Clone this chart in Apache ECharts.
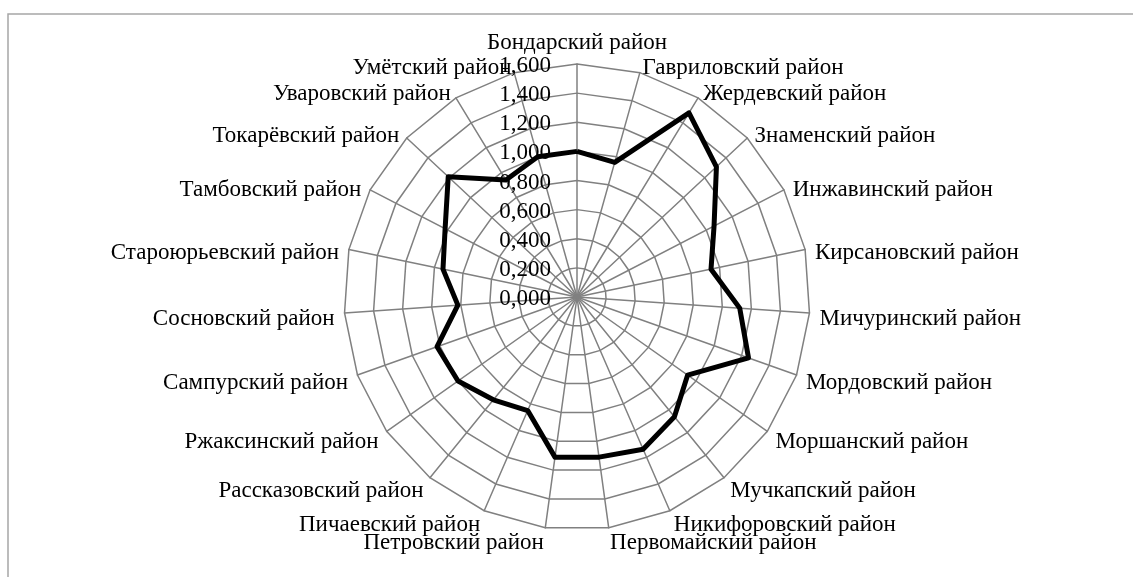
<!DOCTYPE html>
<html>
<head>
<meta charset="utf-8">
<script src="https://cdn.jsdelivr.net/npm/echarts@6/dist/echarts.min.js"></script>
<style>
  html, body { margin: 0; padding: 0; background: #fff; }
  #radar { width: 1133px; height: 577px; }
</style>
</head>
<body>
<div id="radar"></div>
<script>
// районы по часовой стрелке, начиная сверху
var districts = ['Бондарский район', 'Гавриловский район', 'Жердевский район', 'Знаменский район',
    'Инжавинский район', 'Кирсановский район', 'Мичуринский район', 'Мордовский район',
    'Моршанский район', 'Мучкапский район', 'Никифоровский район', 'Первомайский район',
    'Петровский район', 'Пичаевский район', 'Рассказовский район', 'Ржаксинский район',
    'Сампурский район', 'Сосновский район', 'Староюрьевский район', 'Тамбовский район',
    'Токарёвский район', 'Уваровский район', 'Умётский район'];
var values = [1.00, 0.96, 1.48, 1.31, 1.06, 0.94, 1.12, 1.25, 0.93, 1.06, 1.14, 1.11,
    1.11, 0.85, 0.91, 1.00, 1.02, 0.82, 0.94, 1.02, 1.21, 0.94, 1.00];
var tickMin = 0, tickMax = 1.6, tickStep = 0.2;

// echarts кладёт оси против часовой, поэтому разворачиваем хвост
function clockwise(arr) {
    return [arr[0]].concat(arr.slice(1).reverse());
}

var fontFamily = '"Liberation Serif", "Times New Roman", serif';
var gridColor = '#808080';
var cx = 577, cy = 297, r = 233;

var myChart = echarts.init(document.getElementById('radar'));
var option = {
    animation: false,
    graphic: [{
        type: 'rect',
        shape: { x: 8, y: 14, width: 1200, height: 700 },
        style: { fill: 'none', stroke: '#a6a6a6', lineWidth: 1.5 },
        silent: true
    }],
    radar: {
        center: [cx, cy],
        radius: r,
        startAngle: 90,
        shape: 'polygon',
        splitNumber: 8,
        nameGap: 10,
        axisName: {
            color: '#000',
            fontFamily: fontFamily,
            fontSize: 23,
            formatter: function (name) { return '{n|' + name + '}'; },
            rich: { n: { color: '#000', fontFamily: fontFamily, fontSize: 23, padding: [10, 0, 0, 0] } }
        },
        axisLine: { lineStyle: { color: gridColor, width: 1.5 } },
        splitLine: { lineStyle: { color: gridColor, width: 1.5 } },
        splitArea: { show: false },
        axisTick: { show: false },
        axisLabel: { show: false },
        indicator: clockwise(districts).map(function (name) {
            return { name: name, min: tickMin, max: tickMax };
        })
    },
    // подписи шкалы по вертикальной оси
    grid: { left: cx, top: cy - r, width: 1, height: r, containLabel: false },
    xAxis: { type: 'value', show: false },
    yAxis: {
        type: 'value',
        min: tickMin,
        max: tickMax,
        interval: tickStep,
        axisLine: { show: false },
        axisTick: { show: false },
        splitLine: { show: false },
        axisLabel: {
            margin: 26,
            formatter: function (v) { return '{t|' + v.toFixed(3).replace('.', ',') + '}'; },
            rich: { t: { color: '#000', fontFamily: fontFamily, fontSize: 23, padding: [4, 0, 0, 0] } }
        }
    },
    series: [{
        type: 'radar',
        symbol: 'none',
        lineStyle: { color: '#000', width: 5 },
        data: [{ value: clockwise(values) }]
    }]
};
myChart.setOption(option);
</script>
</body>
</html>
